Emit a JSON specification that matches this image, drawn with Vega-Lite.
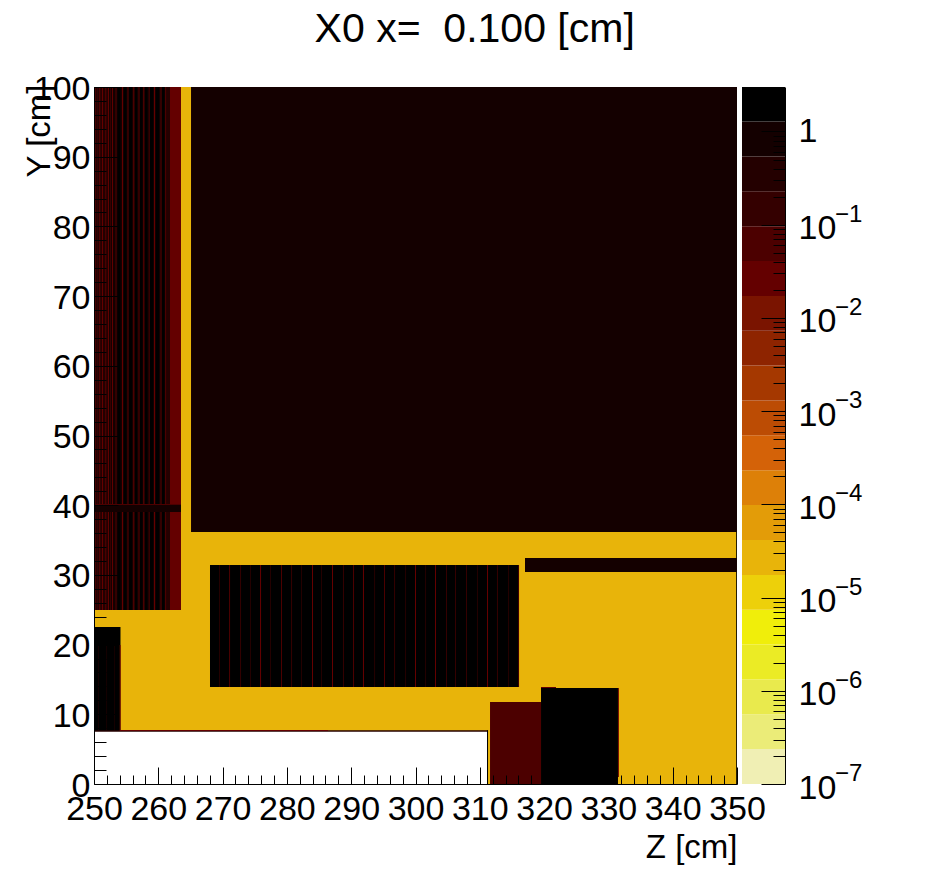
{"$schema":"https://vega.github.io/schema/vega-lite/v6.json","background":"white","padding":{"left":23,"top":9,"right":10,"bottom":5},"spacing":5,"bounds":"flush",
"title":{"text":"X0 x=\u00a0 0.100 [cm]","font":"Liberation Sans","fontSize":41,"fontWeight":"normal","color":"black","anchor":"middle","dx":32,"offset":21},
"config":{"view":{"stroke":null},"axis":{"labelFont":"Liberation Sans","titleFont":"Liberation Sans","labelFontSize":34,"titleFontSize":33,"titleFontWeight":"normal","labelColor":"black","titleColor":"black","domainColor":"black","tickColor":"black","domainWidth":1,"tickWidth":1,"grid":false,"labelOverlap":false,"labelFlush":false,"labelBound":false}},
"datasets":{"cells":[
{"part":"bg","z1":250,"z2":350,"y1":7.6,"y2":100,"v":3e-5},
{"part":"bg","z1":311.12,"z2":350,"y1":0,"y2":7.6,"v":3e-5},
{"part":"frame","z1":349.87,"z2":350,"y1":0,"y2":36.2,"v":2},
{"part":"main","z1":265.09,"z2":350,"y1":36.15,"y2":100,"v":1},
{"part":"bar","z1":317.03,"z2":350,"y1":30.42,"y2":32.42,"v":1},
{"part":"left","z1":250,"z2":261.82,"y1":24.96,"y2":100,"v":1},
{"part":"left","z1":261.82,"z2":263.53,"y1":24.96,"y2":100,"v":0.03},
{"part":"l","z1":250.11,"z2":250.26,"y1":24.96,"y2":100,"v":0.03},
{"part":"l","z1":250.82,"z2":250.98,"y1":24.96,"y2":100,"v":0.03},
{"part":"l","z1":251.24,"z2":251.4,"y1":24.96,"y2":100,"v":0.03},
{"part":"l","z1":251.76,"z2":251.91,"y1":24.96,"y2":100,"v":0.03},
{"part":"l","z1":252.18,"z2":252.33,"y1":24.96,"y2":100,"v":0.03},
{"part":"l","z1":252.8,"z2":252.95,"y1":24.96,"y2":100,"v":0.03},
{"part":"l","z1":254.35,"z2":254.51,"y1":24.96,"y2":100,"v":0.03},
{"part":"l","z1":256.11,"z2":256.26,"y1":24.96,"y2":100,"v":0.03},
{"part":"l","z1":257.67,"z2":257.82,"y1":24.96,"y2":100,"v":0.03},
{"part":"l","z1":259.33,"z2":259.49,"y1":24.96,"y2":100,"v":0.03},
{"part":"l","z1":261.09,"z2":261.24,"y1":24.96,"y2":100,"v":0.03},
{"part":"l","z1":250.39,"z2":250.7,"y1":24.96,"y2":100,"v":0.15},
{"part":"l","z1":251.01,"z2":251.17,"y1":24.96,"y2":100,"v":0.15},
{"part":"l","z1":251.48,"z2":251.63,"y1":24.96,"y2":100,"v":0.15},
{"part":"l","z1":251.94,"z2":252.1,"y1":24.96,"y2":100,"v":0.15},
{"part":"l","z1":252.49,"z2":252.65,"y1":24.96,"y2":100,"v":0.15},
{"part":"l","z1":253.27,"z2":253.58,"y1":24.96,"y2":100,"v":0.15},
{"part":"l","z1":255.13,"z2":255.44,"y1":24.96,"y2":100,"v":0.15},
{"part":"l","z1":256.84,"z2":257.15,"y1":24.96,"y2":100,"v":0.15},
{"part":"l","z1":258.48,"z2":258.79,"y1":24.96,"y2":100,"v":0.15},
{"part":"l","z1":260.26,"z2":260.57,"y1":24.96,"y2":100,"v":0.15},
{"part":"l","z1":253.65,"z2":254.12,"y1":24.96,"y2":100,"v":2},
{"part":"l","z1":254.67,"z2":255.05,"y1":24.96,"y2":100,"v":2},
{"part":"l","z1":255.44,"z2":255.91,"y1":24.96,"y2":100,"v":2},
{"part":"l","z1":256.38,"z2":256.69,"y1":24.96,"y2":100,"v":2},
{"part":"l","z1":257.15,"z2":257.54,"y1":24.96,"y2":100,"v":2},
{"part":"l","z1":257.93,"z2":258.32,"y1":24.96,"y2":100,"v":2},
{"part":"l","z1":258.71,"z2":259.18,"y1":24.96,"y2":100,"v":2},
{"part":"l","z1":259.64,"z2":260.11,"y1":24.96,"y2":100,"v":2},
{"part":"l","z1":260.58,"z2":260.96,"y1":24.96,"y2":100,"v":2},
{"part":"l","z1":261.35,"z2":261.82,"y1":24.96,"y2":100,"v":0.4},
{"part":"hbar","z1":250,"z2":263.53,"y1":39.03,"y2":40.17,"v":0.8},
{"part":"hbar","z1":250,"z2":263.53,"y1":40.03,"y2":40.17,"v":0.06},
{"part":"box","z1":250,"z2":254.12,"y1":7.6,"y2":22.53,"v":2},
{"part":"box","z1":254,"z2":254.16,"y1":7.6,"y2":19.94,"v":0.01},
{"part":"box","z1":250.62,"z2":250.78,"y1":7.6,"y2":19.94,"v":0.8},
{"part":"box","z1":251.87,"z2":252.03,"y1":7.6,"y2":19.94,"v":0.8},
{"part":"box","z1":253.11,"z2":253.27,"y1":7.6,"y2":19.94,"v":0.8},
{"part":"edge","z1":250,"z2":311.28,"y1":7.5,"y2":7.7,"v":0.4},
{"part":"edge","z1":254,"z2":286.39,"y1":7.62,"y2":7.75,"v":0.03},
{"part":"edge","z1":311.12,"z2":311.28,"y1":0,"y2":7.7,"v":2},
{"part":"mid","z1":268.04,"z2":316.1,"y1":13.92,"y2":31.42,"v":2},
{"part":"m","z1":269.44,"z2":269.6,"y1":13.92,"y2":31.42,"v":0.3},
{"part":"m","z1":271,"z2":271.16,"y1":13.92,"y2":31.42,"v":0.06},
{"part":"m","z1":272.71,"z2":272.87,"y1":13.92,"y2":31.42,"v":0.15},
{"part":"m","z1":274.26,"z2":274.42,"y1":13.92,"y2":31.42,"v":0.3},
{"part":"m","z1":275.82,"z2":275.98,"y1":13.92,"y2":31.42,"v":0.03},
{"part":"m","z1":277.37,"z2":277.53,"y1":13.92,"y2":31.42,"v":0.3},
{"part":"m","z1":279.08,"z2":279.24,"y1":13.92,"y2":31.42,"v":0.06},
{"part":"m","z1":280.64,"z2":280.8,"y1":13.92,"y2":31.42,"v":0.15},
{"part":"m","z1":282.19,"z2":282.35,"y1":13.92,"y2":31.42,"v":0.3},
{"part":"m","z1":283.9,"z2":284.06,"y1":13.92,"y2":31.42,"v":0.03},
{"part":"m","z1":285.3,"z2":285.46,"y1":13.92,"y2":31.42,"v":0.3},
{"part":"m","z1":287.01,"z2":287.17,"y1":13.92,"y2":31.42,"v":0.03},
{"part":"m","z1":288.72,"z2":288.88,"y1":13.92,"y2":31.42,"v":0.15},
{"part":"m","z1":290.28,"z2":290.44,"y1":13.92,"y2":31.42,"v":0.06},
{"part":"m","z1":291.83,"z2":291.99,"y1":13.92,"y2":31.42,"v":0.03},
{"part":"m","z1":293.55,"z2":293.71,"y1":13.92,"y2":31.42,"v":0.3},
{"part":"m","z1":295.1,"z2":295.26,"y1":13.92,"y2":31.42,"v":0.06},
{"part":"m","z1":296.66,"z2":296.82,"y1":13.92,"y2":31.42,"v":0.15},
{"part":"m","z1":298.37,"z2":298.53,"y1":13.92,"y2":31.42,"v":0.3},
{"part":"m","z1":299.92,"z2":300.08,"y1":13.92,"y2":31.42,"v":0.03},
{"part":"m","z1":301.48,"z2":301.64,"y1":13.92,"y2":31.42,"v":0.3},
{"part":"m","z1":303.03,"z2":303.19,"y1":13.92,"y2":31.42,"v":0.03},
{"part":"m","z1":304.74,"z2":304.9,"y1":13.92,"y2":31.42,"v":0.15},
{"part":"m","z1":306.14,"z2":306.3,"y1":13.92,"y2":31.42,"v":0.15},
{"part":"m","z1":307.85,"z2":308.01,"y1":13.92,"y2":31.42,"v":0.15},
{"part":"m","z1":309.56,"z2":309.72,"y1":13.92,"y2":31.42,"v":0.3},
{"part":"m","z1":311.12,"z2":311.28,"y1":13.92,"y2":31.42,"v":0.03},
{"part":"m","z1":312.67,"z2":312.83,"y1":13.92,"y2":31.42,"v":0.15},
{"part":"m","z1":314.39,"z2":314.55,"y1":13.92,"y2":31.42,"v":0.3},
{"part":"m","z1":316,"z2":316.1,"y1":13.92,"y2":31.42,"v":0.03},
{"part":"low","z1":311.59,"z2":319.52,"y1":0,"y2":11.76,"v":0.06},
{"part":"low","z1":319.52,"z2":321.85,"y1":13.77,"y2":13.92,"v":0.03},
{"part":"low","z1":331.49,"z2":331.65,"y1":1,"y2":13.77,"v":0.01},
{"part":"low","z1":319.52,"z2":331.49,"y1":0,"y2":13.77,"v":2}
],"bands":[
{"lo":1e-7,"hi":2.37e-7,"v":1.5e-7},{"lo":2.37e-7,"hi":5.6e-7,"v":3.6e-7},{"lo":5.6e-7,"hi":1.32e-6,"v":8.6e-7},{"lo":1.32e-6,"hi":3.13e-6,"v":2e-6},{"lo":3.13e-6,"hi":7.41e-6,"v":4.8e-6},{"lo":7.41e-6,"hi":1.75e-5,"v":1.1e-5},{"lo":1.75e-5,"hi":4.15e-5,"v":2.7e-5},{"lo":4.15e-5,"hi":9.82e-5,"v":6.4e-5},{"lo":9.82e-5,"hi":2.32e-4,"v":1.5e-4},{"lo":2.32e-4,"hi":5.5e-4,"v":3.6e-4},{"lo":5.5e-4,"hi":1.3e-3,"v":8.5e-4},{"lo":1.3e-3,"hi":3.08e-3,"v":2e-3},{"lo":3.08e-3,"hi":7.28e-3,"v":4.7e-3},{"lo":7.28e-3,"hi":1.72e-2,"v":1.1e-2},{"lo":1.72e-2,"hi":4.07e-2,"v":2.6e-2},{"lo":4.07e-2,"hi":9.64e-2,"v":6.3e-2},{"lo":9.64e-2,"hi":0.228,"v":0.15},{"lo":0.228,"hi":0.54,"v":0.35},{"lo":0.54,"hi":1.28,"v":0.83},{"lo":1.28,"hi":3,"v":2}
],"exps":[{"lo":1e-7,"exp":"−7"},{"lo":1e-6,"exp":"−6"},{"lo":1e-5,"exp":"−5"},{"lo":1e-4,"exp":"−4"},{"lo":1e-3,"exp":"−3"},{"lo":0.01,"exp":"−2"},{"lo":0.1,"exp":"−1"}]},
"hconcat":[
{"width":643,"height":697,"data":{"name":"cells"},"mark":{"type":"rect","strokeWidth":0},
"encoding":{
"x":{"field":"z1","type":"quantitative","scale":{"domain":[250,350],"nice":false,"zero":false},
"axis":{"zindex":1,"values":[250,252,254,256,258,260,262,264,266,268,270,272,274,276,278,280,282,284,286,288,290,292,294,296,298,300,302,304,306,308,310,312,314,316,318,320,322,324,326,328,330,332,334,336,338,340,342,344,346,348,350],
"tickSize":{"condition":{"test":"datum.value % 10 == 0","value":-17},"value":-9},
"labelExpr":"datum.value % 10 == 0 ? datum.label : ''","labelPadding":52,"labelAngle":0,"labelAlign":"center","labelBaseline":"alphabetic",
"title":"Z [cm]","titleX":643,"titleY":73,"titleAlign":"right","titleBaseline":"alphabetic","titleAnchor":"end"}},
"x2":{"field":"z2"},
"y":{"field":"y1","type":"quantitative","scale":{"domain":[0,100],"nice":false,"zero":false},
"axis":{"zindex":1,"values":[0,2,4,6,8,10,12,14,16,18,20,22,24,26,28,30,32,34,36,38,40,42,44,46,48,50,52,54,56,58,60,62,64,66,68,70,72,74,76,78,80,82,84,86,88,90,92,94,96,98,100],
"tickSize":{"condition":{"test":"datum.value % 10 == 0","value":-24},"value":-12},
"labelExpr":"datum.value % 10 == 0 ? datum.label : ''","labelPadding":28,"labelOffset":2,"labelAlign":"right","labelBaseline":"middle",
"title":"Y [cm]","titleX":-45,"titleY":-3,"titleAlign":"right","titleBaseline":"alphabetic","titleAngle":270,"titleAnchor":"end"}},
"y2":{"field":"y2"},
"color":{"field":"v","type":"quantitative","legend":null,"scale":{"type":"threshold","domain":[2.37e-7,5.6e-7,1.32e-6,3.13e-6,7.41e-6,1.75e-5,4.15e-5,9.82e-5,2.32e-4,5.5e-4,1.3e-3,3.08e-3,7.28e-3,1.72e-2,4.07e-2,9.64e-2,0.228,0.54,1.28],"range":["#f0efb4","#ebec78","#e9ea4d","#ebeb25","#f0ee0a","#edd00a","#e8b40a","#e39c08","#dd8008","#d46208","#bc4c04","#a53800","#8e2400","#7a1400","#640000","#4c0000","#340000","#240000","#140000","#000000"]}}
}},
{"width":43,"height":697,
"layer":[
{"data":{"name":"bands"},"mark":{"type":"rect","strokeWidth":0},"encoding":{
"x":{"datum":0,"type":"quantitative","scale":{"domain":[0,1],"nice":false},"axis":null},
"x2":{"datum":1},
"y":{"field":"lo","type":"quantitative","scale":{"type":"log","domain":[1e-7,3],"nice":false},
"axis":{"zindex":1,"orient":"right","title":null,"values":[1e-7,2e-7,3e-7,4e-7,5e-7,6e-7,7e-7,8e-7,9e-7,1e-6,2e-6,3e-6,4e-6,5e-6,6e-6,7e-6,8e-6,9e-6,1e-5,2e-5,3e-5,4e-5,5e-5,6e-5,7e-5,8e-5,9e-5,1e-4,2e-4,3e-4,4e-4,5e-4,6e-4,7e-4,8e-4,9e-4,1e-3,2e-3,3e-3,4e-3,5e-3,6e-3,7e-3,8e-3,9e-3,0.01,0.02,0.03,0.04,0.05,0.06,0.07,0.08,0.09,0.1,0.2,0.3,0.4,0.5,0.6,0.7,0.8,0.9,1,2],
"tickSize":{"condition":{"test":"abs(log(datum.value)/LN10-round(log(datum.value)/LN10))<0.001","value":-24},"value":-12},
"labelExpr":"abs(log(datum.value)/LN10-round(log(datum.value)/LN10))<0.001 ? (datum.value>0.5 ? '1' : '10') : ''","labelPadding":37,"labelOffset":{"condition":{"test":"datum.value>0.5","value":0},"value":4},"labelAlign":"left","labelBaseline":"middle"}},
"y2":{"field":"hi"},
"color":{"field":"v","type":"quantitative","legend":null,"scale":{"type":"threshold","domain":[2.37e-7,5.6e-7,1.32e-6,3.13e-6,7.41e-6,1.75e-5,4.15e-5,9.82e-5,2.32e-4,5.5e-4,1.3e-3,3.08e-3,7.28e-3,1.72e-2,4.07e-2,9.64e-2,0.228,0.54,1.28],"range":["#f0efb4","#ebec78","#e9ea4d","#ebeb25","#f0ee0a","#edd00a","#e8b40a","#e39c08","#dd8008","#d46208","#bc4c04","#a53800","#8e2400","#7a1400","#640000","#4c0000","#340000","#240000","#140000","#000000"]}}
}},
{"data":{"name":"exps"},"mark":{"type":"text","font":"Liberation Sans","fontSize":24,"align":"left","baseline":"middle","dy":-10,"color":"black","clip":false},"encoding":{
"x":{"datum":2.163,"type":"quantitative"},
"y":{"field":"lo","type":"quantitative"},
"text":{"field":"exp"}
}}
]}
]}
